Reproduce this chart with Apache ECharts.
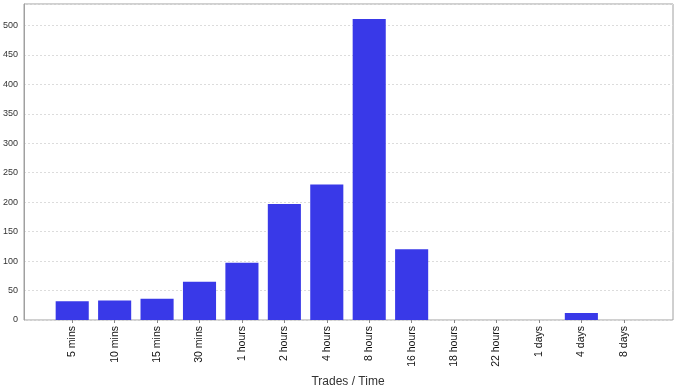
<!DOCTYPE html>
<html><head><meta charset="utf-8">
<script src="https://cdn.jsdelivr.net/npm/echarts@6/dist/echarts.min.js"></script>
<style>html,body{margin:0;padding:0;background:#fff}#c{width:679px;height:389px}</style>
</head><body><div id="c"></div>
<script>
const categories = ['5 mins','10 mins','15 mins','30 mins','1 hours','2 hours','4 hours','8 hours','16 hours','18 hours','22 hours','1 days','4 days','8 days'];
const trades = [32,33,36,65,97,197,230,511,120,0,0,0,12,0];
const yMax = 536.5;
const yInterval = 50;
const xTitle = 'Trades / Time';

const chart = echarts.init(document.getElementById('c'));
const font = 'Liberation Sans, Arial, sans-serif';
chart.setOption({
  animation: false,
  grid: [
    {left: 24, right: 6, top: 4, bottom: 69, show: true, borderColor: '#a0a0a0', borderWidth: 1, backgroundColor: '#fff', outerBoundsMode: 'none', containLabel: false},
    {left: 51, right: 34, top: 4, bottom: 69, outerBoundsMode: 'none', containLabel: false}
  ],
  xAxis: [
    {type: 'value', gridIndex: 0, min: 0, max: 1, show: false},
    {type: 'category', gridIndex: 1, data: categories,
     axisLine: {show: false}, axisTick: {show: true, length: 3, lineStyle: {color: '#888'}, alignWithLabel: true},
     axisLabel: {rotate: 90, fontSize: 10.5, color: '#111', fontFamily: font, margin: 6, interval: 0},
     name: xTitle, nameLocation: 'middle', nameGap: 56,
     nameTextStyle: {fontSize: 12, color: '#333', fontFamily: font}}
  ],
  yAxis: [
    {type: 'value', gridIndex: 0, min: 0, max: yMax, interval: yInterval,
     axisLine: {show: true, lineStyle: {color: '#a0a0a0'}}, axisTick: {show: false},
     axisLabel: {fontSize: 9, color: '#333', fontFamily: font, margin: 6,
       showMaxLabel: false},
     splitLine: {show: true, lineStyle: {color: '#dcdcdc', type: [2, 2]}}},
    {type: 'value', gridIndex: 1, min: 0, max: yMax, interval: yInterval, show: false, splitLine: {show: false}}
  ],
  series: [{
    type: 'bar', xAxisIndex: 1, yAxisIndex: 1, data: trades,
    barCategoryGap: '22%',
    itemStyle: {color: '#3939e8'}
  }]
});
</script></body></html>
